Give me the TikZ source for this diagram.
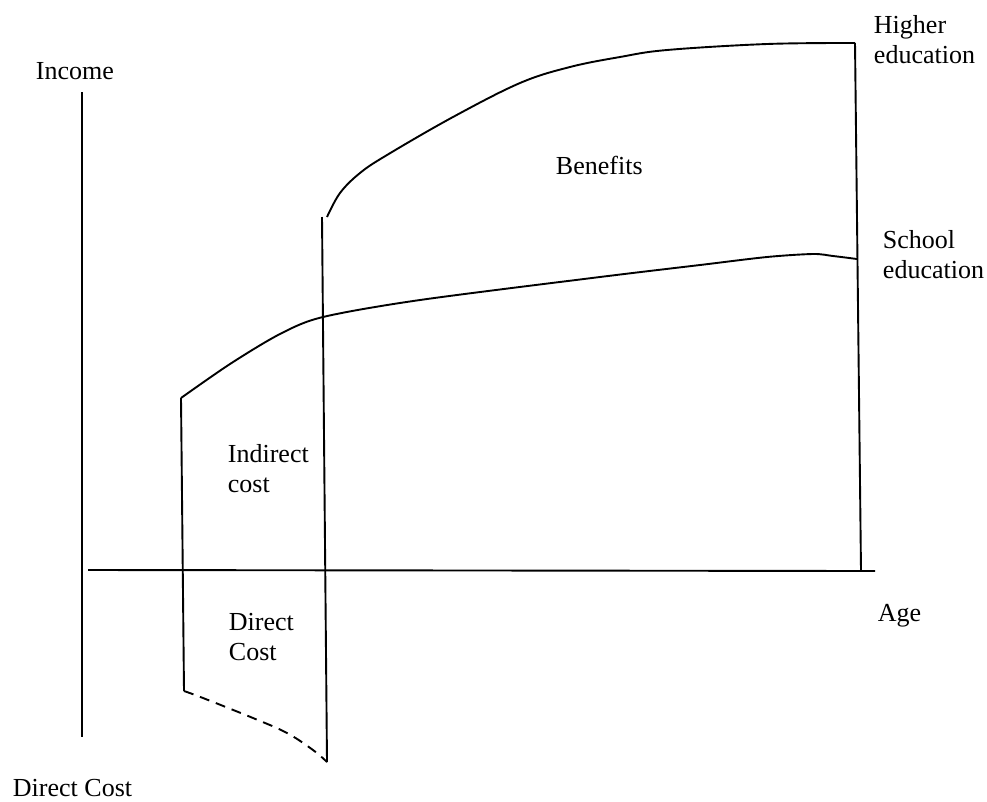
\documentclass[tikz,border=0pt]{standalone}
\usepackage{fontspec}
\setmainfont{Liberation Serif}
\begin{document}
\begin{tikzpicture}[x=1pt,y=-1pt,line width=1.9pt,
	lbl/.style={anchor=north west,inner sep=0pt,align=left,font=\fontsize{26}{30}\selectfont}]
			\useasboundingbox (0,0) rectangle (987,801);
			\coordinate (Itop) at (82,92);
			\coordinate (Ibot) at (82,737);
			\coordinate (Aleft) at (88,570);
			\coordinate (Aright) at (875,571);
			\coordinate (S) at (181,398);
			\coordinate (Sd) at (184,691);
			\coordinate (H) at (322,217);
			\coordinate (Hd) at (327,762);
			\coordinate (Hc) at (327,217);
			\coordinate (E) at (855,43);
			\coordinate (Ed) at (861,571);
			\coordinate (Se) at (857,259);
			\draw (Itop) to (Ibot);
			\draw (Aleft) to (Aright);
			\draw (S) to (Sd);
			\draw (H) to (Hd);
			\draw (E) to (Ed);
			\draw plot[smooth,tension=0.5] coordinates {(S) (230,364) (280,334) (323,317) (420,300) (600,277) (700,265) (767,257) (813,254) (833,256) (Se)};
			\draw plot[smooth,tension=0.6] coordinates {(Hc) (340,193) (360,173) (387,155) (453,117) (520,83) (570,67) (620,57) (667,50) (767,44) (E)};
			\draw[dash pattern=on 10pt off 7pt] plot[smooth,tension=0.6] coordinates {(Sd) (203,698) (253,718) (287,733) (313,750) (Hd)};
			\node[lbl] (income) at (35,62) {Income};
			\node[lbl] (higher) at (873,15) {Higher\\education};
			\node[lbl] (school) at (882,230) {School\\education};
			\node[lbl] (benefits) at (555,155) {Benefits};
			\node[lbl] (indirect) at (227,443) {Indirect\\cost};
			\node[lbl] (direct) at (228,612) {Direct\\Cost};
			\node[lbl] (age) at (877,603) {Age};
			\node[lbl] (directaxis) at (12,778) {Direct Cost};
		\end{tikzpicture}
\end{document}
